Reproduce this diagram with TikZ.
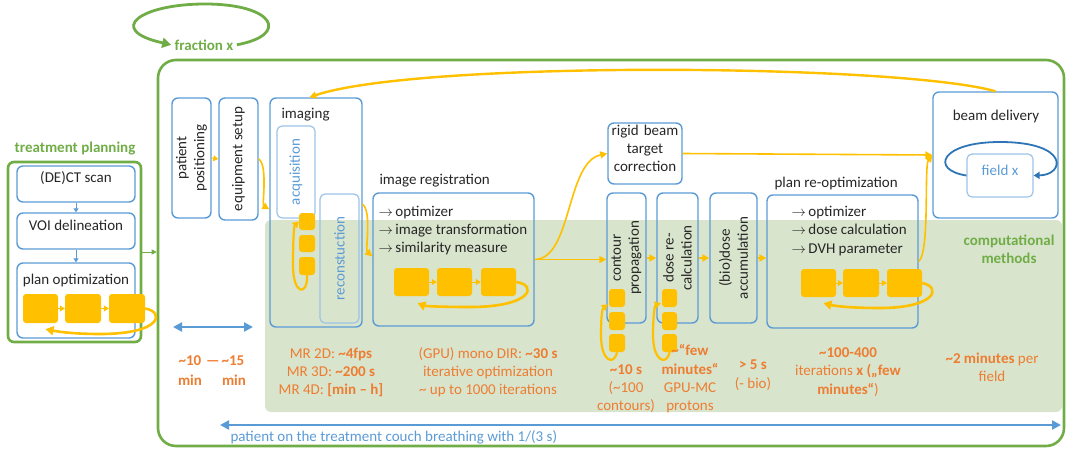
\documentclass[tikz,border=0pt]{standalone}
\usepackage{fontspec}
\setmainfont{Carlito}
\usetikzlibrary{arrows.meta,fit,calc}
\definecolor{bl}{HTML}{5B9BD5}
\definecolor{lbl}{HTML}{9DC3E6}
\definecolor{dbl}{HTML}{2E75B6}
\definecolor{og}{HTML}{FFC000}
\definecolor{gr}{HTML}{70AD47}
\definecolor{ot}{HTML}{ED7D31}
\definecolor{shd}{RGB}{217,228,205}
\definecolor{tx}{HTML}{262626}
\begin{document}
\begin{tikzpicture}[x=1pt,y=-1pt,
 every node/.style={font=\fontsize{15}{18}\selectfont, text=tx},
 box/.style={draw=bl, line width=1.4pt, rounded corners=6pt, inner sep=0pt},
 ibox/.style={draw=lbl, line width=1.2pt, rounded corners=5pt, inner sep=0pt},
 sq/.style={fill=og, rounded corners=3pt, inner sep=0pt},
 conn/.style={draw=og, line width=1.6pt, -{Triangle[length=7pt,width=7pt]}},
 loopa/.style={draw=og, line width=2.6pt, -{Triangle[length=8pt,width=9pt]}},
 loopb/.style={draw=og, line width=2.2pt, -{Triangle[length=6pt,width=7pt]}},
 small/.style={draw=og, line width=1pt, -{Triangle[length=5pt,width=6pt]}},
 otxt/.style={text=ot, anchor=base},
 gtxt/.style={text=gr, font=\fontsize{15}{18}\selectfont\bfseries},
 dbarrow/.style={draw=bl, {Triangle[length=9pt,width=9pt]}-{Triangle[length=9pt,width=9pt]}},
]
\useasboundingbox (0,0) rectangle (1067,450);

% computational area
\fill[shd, rounded corners=6pt] (265,220) rectangle (1062,412);
\node[gtxt, anchor=base] (cm1) at (1009,245) {computational};
\node[gtxt, anchor=base] (cm2) at (1009,263) {methods};

% frame
\node[draw=gr, line width=2.6pt, rounded corners=18pt, inner sep=0pt, fit={(158,60) (1064,446)}] (frame) {};

% fraction loop
\node[gtxt, anchor=base] (frac) at (204,50) {fraction x};
\draw[draw=gr, line width=2.8pt, -{Triangle[length=9pt,width=10pt]}] (frac.east) .. controls (290,35) and (275,4) .. (205,4) .. controls (140,4) and (105,30) .. (frac.west);

% treatment planning
\node[draw=gr, line width=2.6pt, rounded corners=6pt, inner sep=0pt, fit={(8,162) (141,342)}] (tp) {};
\node[gtxt, anchor=base] (tpl) at (75,152) {treatment planning};
\node[box, fit={(17,166) (135,202)}] (ct) {(DE)CT scan};
\node[box, fit={(17,213) (135,249)}] (voi) {VOI delineation};
\node[box, fit={(17,263) (135,338)}] (po) {};
\node[anchor=base] (pol) at (76,284) {plan optimization};
\draw[bl, line width=1pt, -{Triangle[length=4pt,width=5pt]}] (ct.south) -- (voi.north);
\draw[bl, line width=1pt, -{Triangle[length=4pt,width=5pt]}] (voi.south) -- (po.north);
\node[sq, fit={(23,294) (58,323)}] (po1) {};
\node[sq, fit={(65,294) (101,323)}] (po2) {};
\node[sq, fit={(109,294) (145,323)}] (po3) {};
\draw[small] (po1.east) -- (po2.west);
\draw[small] (po2.east) -- (po3.west);
\draw[loopa] (po3.east) .. controls (165,312) and (162,334) .. (100,334) .. controls (70,334) and (55,331) .. ($(po1.south)+(5,6)$);
\draw[gr, line width=0.8pt, -{Triangle[length=5pt,width=5pt]}] (tp.east) -- (tp.east -| frame.west);

% patient positioning, equipment setup
\node[box, fit={(172,98) (211,218)}] (pp) {};
\node[rotate=90, align=center] (ppl) at (pp) {patient\\positioning};
\node[box, fit={(219,98) (258,220)}] (es) {};
\node[rotate=90] (esl) at (es) {equipment setup};
\draw[small] (pp.east) -- (es.west);

% imaging
\node[box, fit={(270,98) (362,327)}] (img) {};
\node[anchor=base west] (imgl) at (278,118) {imaging};
\node[ibox, fit={(277,126) (315,218)}] (acq) {};
\node[rotate=90, text=bl] (acql) at (acq) {acquisition};
\node[ibox, fit={(320,194) (359,323)}] (rec) {};
\node[rotate=90, text=bl] (recl) at (rec) {reconstuction};
\node[sq, fit={(299,213) (315,230)}] (is1) {};
\node[sq, fit={(299,235) (315,252)}] (is2) {};
\node[sq, fit={(299,257) (315,275)}] (is3) {};
\draw[loopb] (is3.south) .. controls (308,296) and (293,296) .. (293,265) .. controls (293,240) and (294,226) .. (is1.west);
\draw[conn] (es.east) .. controls (268,165) and (262,205) .. ($(img.north west)+(0,112)$);

% image registration
\node[box, fit={(373,193) (534,326)}] (reg) {};
\node[anchor=base west] (regl) at (376,184) {image registration};
\node[anchor=base west] (reg1) at (375,216) {$\rightarrow$\,optimizer};
\node[anchor=base west] (reg2) at (375,234) {$\rightarrow$\,image transformation};
\node[anchor=base west] (reg3) at (375,252) {$\rightarrow$\,similarity measure};
\node[sq, fit={(394,268) (429,296)}] (rs1) {};
\node[sq, fit={(437,268) (472,296)}] (rs2) {};
\node[sq, fit={(481,268) (516,296)}] (rs3) {};
\draw[small] (rs1.east) -- (rs2.west);
\draw[small] (rs2.east) -- (rs3.west);
\draw[loopa] (rs3.east) .. controls (538,285) and (532,307) .. (470,307) .. controls (440,307) and (425,306) .. ($(rs1.south)+(6,7)$);
\draw[conn] ($(img.north east)+(0,107)$) .. controls (372,212) and (365,250) .. ($(reg.north west)+(0,64)$);

% rigid beam
\node[box, fit={(608,123) (682,184)}, align=center] (rb) {rigid beam\\target\\correction};
\draw[conn] (reg.east) .. controls (572,259) and (566,162) .. (rb.west);

% contour, dose, bio
\node[box, fit={(607,193) (646,323)}] (cp) {};
\node[rotate=90, align=center] (cpl) at (cp) {contour\\propagation};
\node[box, fit={(657,193) (698,323)}] (dr) {};
\node[rotate=90, align=center] (drl) at (dr) {dose re-\\calculation};
\node[box, fit={(710,193) (757,323)}] (ba) {};
\node[rotate=90, align=center] (bal) at (ba) {(bio)dose\\accumulation};
\draw[conn] (reg.east) -- (reg.east -| cp.west);
\draw[conn] (cp.east) -- (dr.west);
\draw[conn] (dr.east) -- (ba.west);

\node[sq, fit={(609,289) (625,307)}] (cs1) {};
\node[sq, fit={(609,312) (625,330)}] (cs2) {};
\node[sq, fit={(609,334) (625,352)}] (cs3) {};
\draw[loopb] (cs3.south) .. controls (614,366) and (601,362) .. (601,335) .. controls (601,318) and (602,309) .. ($(cs1.south west)+(-1,-3)$);
\node[sq, fit={(662,289) (677,307)}] (ds1) {};
\node[sq, fit={(662,312) (677,330)}] (ds2) {};
\node[sq, fit={(662,334) (677,352)}] (ds3) {};
\draw[loopb] (ds3.south) .. controls (667,366) and (653,362) .. (653,335) .. controls (653,315) and (655,305) .. ($(ds1.south west)+(-1,-4)$);

% plan re-optimization
\node[box, fit={(767,195) (918,328)}] (pr) {};
\node[anchor=base west] (prl) at (771,187) {plan re-optimization};
\node[anchor=base west] (pr1) at (788,216) {$\rightarrow$\,optimizer};
\node[anchor=base west] (pr2) at (788,234) {$\rightarrow$\,dose calculation};
\node[anchor=base west] (pr3) at (788,253) {$\rightarrow$\,DVH parameter};
\node[sq, fit={(801,269) (836,297)}] (ps1) {};
\node[sq, fit={(843,269) (879,297)}] (ps2) {};
\node[sq, fit={(887,269) (922,297)}] (ps3) {};
\draw[small] (ps1.east) -- (ps2.west);
\draw[small] (ps2.east) -- (ps3.west);
\draw[loopa] (ps3.east) .. controls (942,287) and (936,308) .. (880,308) .. controls (850,308) and (835,306) .. ($(ps1.south)+(5,6)$);
\draw[conn] (ba.east) -- (ba.east -| pr.west);

% beam delivery
\node[box, fit={(933,92) (1058,218)}] (bd) {};
\node[anchor=base] (bdl) at (996,120) {beam delivery};
\node[ibox, fit={(967,154) (1033,197)}, text=bl] (fx) {field x};
\draw[dbl, line width=1.8pt, -{Triangle[length=6pt,width=7pt]}] (fx.west) .. controls (930,170) and (940,142) .. (1000,142) .. controls (1070,142) and (1065,175) .. (fx.east);
\draw[conn] (pr.east) .. controls (930,252) and (924,166) .. (bd.west);
\draw[conn] (rb.east) -- (bd.west);
\draw[conn, line width=2.4pt] (bd.north) .. controls (900,64) and (420,60) .. ($(img.north west)+(40,0)$);

% bottom timeline
\coordinate (t1) at (173,327);
\coordinate (t2) at (253,327);
\draw[dbarrow, line width=2.2pt] (t1) -- (t2);
\coordinate (b1) at (220,425);
\coordinate (b2) at (1061,425);
\draw[dbarrow, line width=2.8pt] (b1) -- (b2);
\node[anchor=base west, text=bl] (ptxt) at (227,441) {patient on the treatment couch breathing with 1/(3 s)};

% orange timing texts
\node[otxt] (a1) at (190,365) {\textbf{\textasciitilde10}};
\node[otxt] (a2) at (213,365) {\textbf{—}};
\node[otxt] (a3) at (233,365) {\textbf{\textasciitilde15}};
\node[otxt] (a4) at (190,385) {\textbf{min}};
\node[otxt] (a5) at (234,385) {\textbf{min}};

\node[otxt] (m1) at (331,358) {MR 2D: \textbf{\textasciitilde4fps}};
\node[otxt] (m2) at (331,376) {MR 3D: \textbf{\textasciitilde200 s}};
\node[otxt] (m3) at (331,394) {MR 4D: \textbf{[min – h]}};

\node[otxt] (g1) at (488,358) {(GPU) mono DIR: \textbf{\textasciitilde30 s}};
\node[otxt] (g2) at (488,376) {iterative optimization};
\node[otxt] (g3) at (488,394) {\textasciitilde{} up to 1000 iterations};

\node[otxt] (c1) at (626,374) {\textbf{\textasciitilde10 s}};
\node[otxt] (c2) at (626,392) {(\textasciitilde100};
\node[otxt] (c3) at (626,410) {contours)};

\node[otxt] (d1) at (690,355) {\textbf{\textasciitilde“few}};
\node[otxt] (d2) at (690,374) {\textbf{minutes“}};
\node[otxt] (d3) at (690,392) {GPU-MC};
\node[otxt] (d4) at (690,410) {protons};

\node[otxt] (e1) at (753,369) {\textbf{> 5 s}};
\node[otxt] (e2) at (753,388) {(- bio)};

\node[otxt] (f1) at (848,357) {\textbf{\textasciitilde100-400}};
\node[otxt] (f2) at (848,375) {iterations \textbf{x („few}};
\node[otxt] (f3) at (848,394) {\textbf{minutes“})};

\node[otxt] (h1) at (992,363) {\textbf{\textasciitilde2 minutes} per};
\node[otxt] (h2) at (992,381) {field};
\end{tikzpicture}
\end{document}
